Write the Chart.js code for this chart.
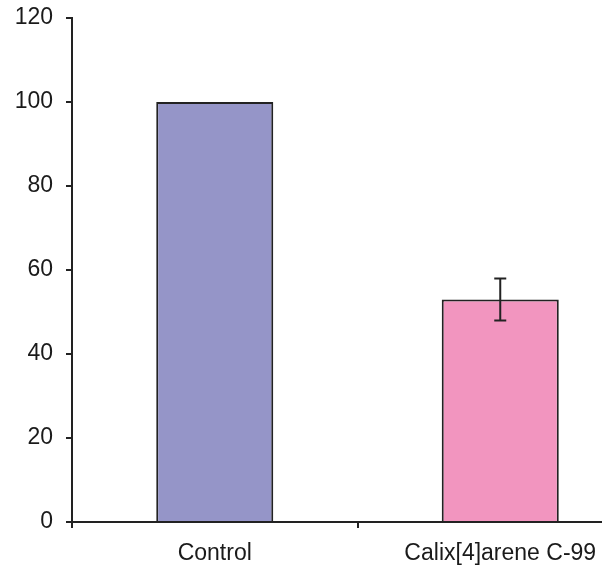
<!DOCTYPE html>
<html>
<head>
<meta charset="utf-8">
<script src="https://cdn.jsdelivr.net/npm/chart.js@4.4.0/dist/chart.umd.min.js"></script>
<style>
  html, body { margin: 0; padding: 0; background: #fff; overflow: hidden; }
  #wrap { width: 650px; height: 572px; }
</style>
</head>
<body>
<div id="wrap"><canvas id="myBarChart"></canvas></div>
<script>
const categories = ["Control", "Calix[4]arene C-99"];
const values = [100, 53];
const errors = [0, 5];
const barColors = ["#9595C8", "#F295BF"];
const yTicks = [0, 20, 40, 60, 80, 100, 120];

// draws the error bars from the errors array using the chart scales
const errorBars = {
    id: "errorBars",
    afterDatasetsDraw(chart) {
        const ctx = chart.ctx;
        const y = chart.scales.y;
        const meta = chart.getDatasetMeta(0);
        ctx.save();
        ctx.strokeStyle = "#222";
        ctx.lineWidth = 2;
        meta.data.forEach((bar, i) => {
            if (!errors[i]) return;
            const top = y.getPixelForValue(values[i] + errors[i]);
            const bot = y.getPixelForValue(values[i] - errors[i]);
            ctx.beginPath();
            ctx.moveTo(bar.x, top); ctx.lineTo(bar.x, bot);
            ctx.moveTo(bar.x - 6, top); ctx.lineTo(bar.x + 6, top);
            ctx.moveTo(bar.x - 6, bot); ctx.lineTo(bar.x + 6, bot);
            ctx.stroke();
        });
        ctx.restore();
    }
};

const font = { family: "Liberation Sans, Arial", size: 23 };

new Chart("myBarChart", {
    type: "bar",
    data: {
        labels: categories,
        datasets: [{
            data: values,
            backgroundColor: barColors,
            borderColor: "#222",
            borderWidth: 2,
            barPercentage: 0.41,
            categoryPercentage: 1
        }]
    },
    options: {
        responsive: true,
        maintainAspectRatio: false,
        animation: false,
        layout: { padding: { top: 0, left: 0, right: 7, bottom: 0 } },
        plugins: { legend: { display: false }, tooltip: { enabled: false } },
        scales: {
            x: {
                afterFit: (axis) => { axis.height = 50; },
                grid: { display: true, offset: true, drawOnChartArea: false, drawTicks: true, tickLength: 6, color: "#222", lineWidth: 2 },
                border: { display: true, color: "#222", width: 2 },
                ticks: { color: "#1a1a1a", font: font, padding: 12, maxRotation: 0 }
            },
            y: {
                min: 0,
                max: 120,
                afterFit: (axis) => { axis.width = 72; axis.paddingTop = 18; axis.paddingBottom = 0; },
                afterBuildTicks: (axis) => { axis.ticks = yTicks.map(v => ({ value: v })); },
                grid: { display: true, drawOnChartArea: false, drawTicks: true, tickLength: 6, color: "#222", lineWidth: 2 },
                border: { display: true, color: "#222", width: 2 },
                ticks: { color: "#1a1a1a", font: font, padding: 13 }
            }
        }
    },
    plugins: [errorBars]
});
</script>
</body>
</html>
